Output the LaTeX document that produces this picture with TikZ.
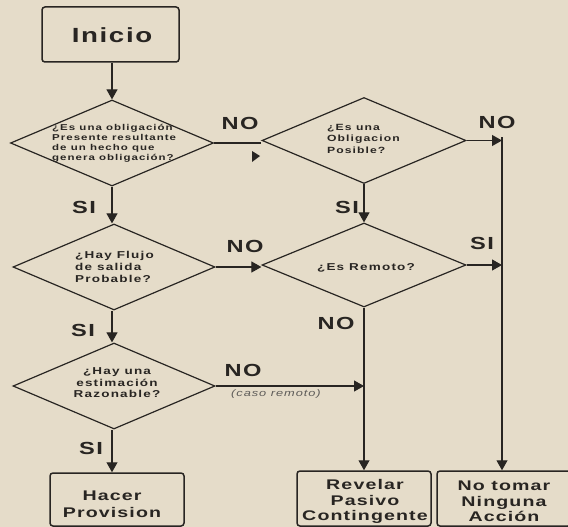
\documentclass[tikz,border=0pt]{standalone}
\usepackage{fontspec}
\usetikzlibrary{shapes.geometric,arrows.meta}
\newfontfamily\labfont{Liberation Sans Bold}[FakeStretch=1.35,LetterSpace=8]
\newfontfamily\boxfont{Liberation Sans Bold}[FakeStretch=1.4,LetterSpace=8]
\newfontfamily\txtfont{Liberation Sans Bold}[FakeStretch=1.35,LetterSpace=12]
\newfontfamily\itfont{Liberation Sans Italic}[FakeStretch=1.35,LetterSpace=10]
\definecolor{paper}{RGB}{229,220,201}
\definecolor{ink}{RGB}{40,37,34}
\begin{document}
\begin{tikzpicture}[x=1pt,y=-1pt,
  every node/.style={text=ink},
  dia/.style={draw=ink,line width=1.2pt,diamond,inner sep=0pt,minimum width=#1},
  dia/.default=203pt,
  boxn/.style={draw=ink,line width=1.5pt,rounded corners=3pt,inner sep=0pt},
  lab/.style={font=\labfont\fontsize{17.5}{17.5}\selectfont,inner sep=0pt},
  dtxt/.style={font=\txtfont\fontsize{8.5}{10}\selectfont,align=left,inner sep=0pt},
  btxt/.style={font=\boxfont\fontsize{14}{16.5}\selectfont,align=center},
  conn/.style={draw=ink,line width=1.1pt},
  arr/.style={conn,-{Triangle[length=10pt,width=11pt]}}]
\fill[paper] (0,0) rectangle (568,527);
\useasboundingbox (0,0) rectangle (568,527);
% boxes
\node[boxn,minimum width=137pt,minimum height=55pt] (ini) at (110.5,34.5) {};
\node[font=\labfont\fontsize{20.5}{20.5}\selectfont,inner sep=0pt] (initxt) at (112,35) {Inicio};
\node[boxn,minimum width=134pt,minimum height=53pt] (hacer) at (117,499.5) {};
\node[btxt] (hacertxt) at (112,504) {Hacer\\Provision};
\node[boxn,minimum width=134pt,minimum height=55pt] (rev) at (364,498.5) {};
\node[btxt,font=\boxfont\fontsize{14}{15.5}\selectfont] (revtxt) at (365,501.5) {Revelar\\Pasivo\\Contingente};
\node[boxn,minimum width=134pt,minimum height=55pt] (nt) at (504,498.5) {};
\node[btxt,font=\boxfont\fontsize{14}{15.5}\selectfont] (nttxt) at (504,501.5) {No tomar\\Ninguna\\Acción};
% diamonds
\node[dia,minimum height=86pt] (d1) at (112,143) {};
\node[dia=204pt,minimum height=86pt] (d2) at (364,140.5) {};
\node[dia=202pt,minimum height=86pt] (d3) at (114,267) {};
\node[dia=204pt,minimum height=84pt] (d4) at (364,265) {};
\node[dia=202pt,minimum height=86pt] (d5) at (114,386) {};
% diamond texts
\node[dtxt,anchor=west] (t1) at (52,143) {¿Es una obligación\\Presente resultante\\de un hecho que\\genera obligación?};
\node[dtxt,anchor=west,font=\txtfont\fontsize{9}{11.5}\selectfont] (t2) at (327,138.5) {¿Es una\\Obligacion\\Posible?};
\node[dtxt,anchor=west,font=\txtfont\fontsize{10}{12}\selectfont] (t3) at (75,267) {¿Hay Flujo\\de salida\\Probable?};
\node[dtxt,font=\txtfont\fontsize{10}{12}\selectfont] (t4) at (366,268) {¿Es Remoto?};
\node[dtxt,align=center,font=\txtfont\fontsize{10}{11.5}\selectfont] (t5) at (117,383) {¿Hay una\\estimación\\Razonable?};
% right vertical line
\coordinate (r1) at (502,137);
\coordinate (r2) at (502,264);
\coordinate (m5) at (364,384);
% connectors
\draw[arr] (ini.south -| d1.north) -- (d1.north);
\draw[conn] (d1.east) -- (d1.east -| d2.west);
\fill[ink] (252,151) -- (260,156) -- (252,162) -- cycle;
\draw[arr] (d1.south) -- (d1.south |- d3.north);
\draw[arr] (d2.south) -- (d2.south |- d4.north);
\draw[arr] (d3.east) -- (d3.east -| d4.west);
\draw[arr] (d3.south -| d1.south) -- (d1.south |- d5.north);
\draw[arr] (d5.south -| d1.south) -- (d1.south |- hacer.north);
\draw[arr] (d2.east) -- (d2.east -| r1);
\draw[arr] (d4.east) -- (d4.east -| r2);
\draw[arr] (r1) -- (r1 |- nt.north);
\draw[arr] (d4.south) -- (d4.south |- rev.north);
\draw[arr] (d5.east) -- (d5.east -| m5);
% labels
\node[lab] (no1) at (240,123) {NO};
\node[lab] (no2) at (497,122) {NO};
\node[lab] (si1) at (84,207) {SI};
\node[lab] (si2) at (347,207) {SI};
\node[lab] (no3) at (245,246) {NO};
\node[lab] (si3) at (482,243) {SI};
\node[lab] (no4) at (336,323) {NO};
\node[lab] (si4) at (83,330) {SI};
\node[lab] (no5) at (243,370) {NO};
\node[font=\itfont\fontsize{9.5}{9.5}\selectfont,text=ink!75,inner sep=0pt] (caso) at (276,394) {(caso remoto)};
\node[lab] (si5) at (91,448) {SI};
\end{tikzpicture}
\end{document}
